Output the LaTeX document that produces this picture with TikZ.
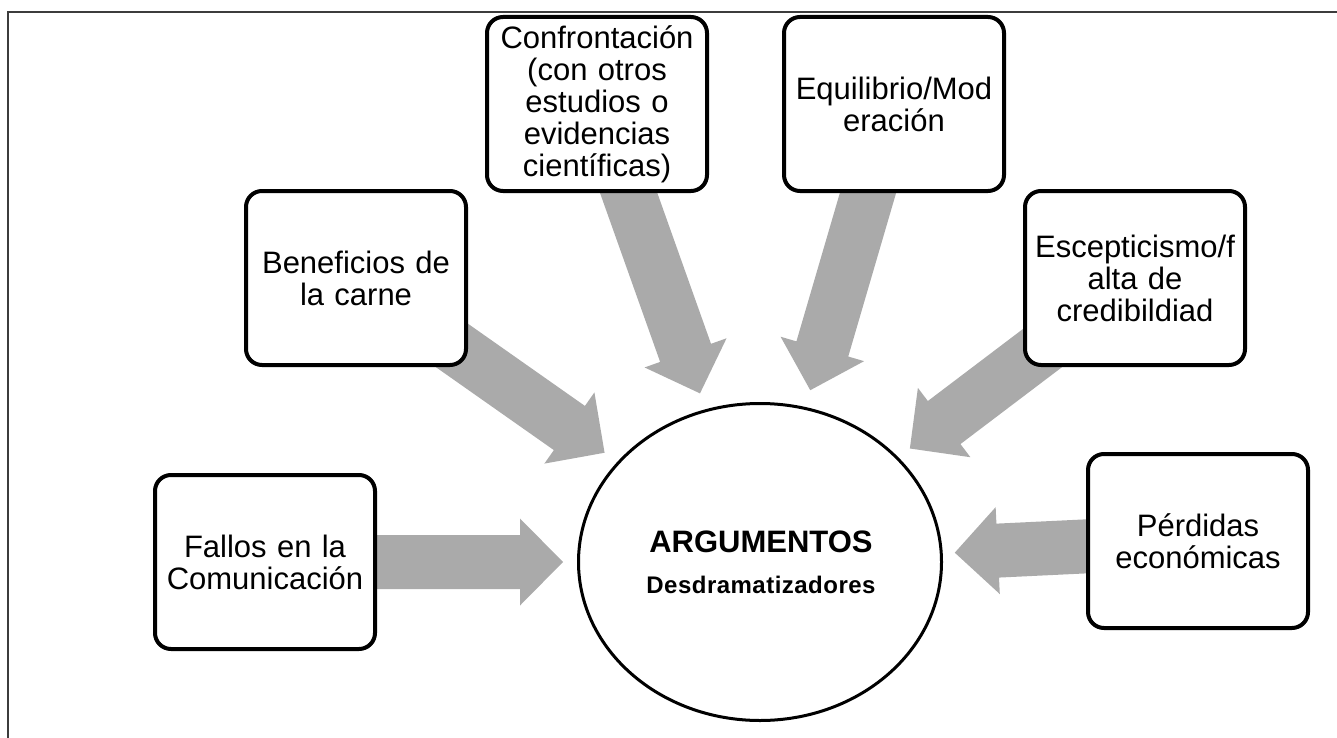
\documentclass[tikz,border=0pt]{standalone}
\usepackage{fontspec}
\setmainfont{Liberation Sans}
\newfontfamily\spacedbold[LetterSpace=2]{Liberation Sans}
\usetikzlibrary{shapes.geometric,calc}
\definecolor{arrowgray}{RGB}{170,170,170}
\definecolor{framegray}{RGB}{60,60,60}
\pgfdeclarelayer{bg}
\pgfsetlayers{bg,main}
\tikzset{
  box/.style={draw=black, line width=4pt, rounded corners=16pt, fill=white,
    minimum width=220pt, minimum height=174pt, text width=214pt, align=center,
    inner sep=0pt, font=\fontsize{31}{32}\selectfont},
  hub/.style={draw=black, line width=3pt, ellipse, fill=white,
    minimum width=363pt, minimum height=317pt, inner sep=0pt},
  arrowfill/.style={fill=arrowgray},
  frameline/.style={draw=framegray, line width=1.3pt},
  hubtitle/.style={font=\fontsize{31}{31}\selectfont\bfseries, anchor=base, inner sep=0pt},
  hubsub/.style={font=\fontsize{24}{24}\selectfont\spacedbold\bfseries, anchor=base, inner sep=0pt}
}
\newcommand\bigarrow[2]{%
  \coordinate (hb) at ($(#2)!43pt!(#1)$);
  \fill[arrowfill]
    ($(#1)!27pt!90:(#2)$) -- ($(hb)!27pt!90:(#2)$) -- ($(hb)!43.5pt!90:(#2)$) --
    (#2) --
    ($(hb)!43.5pt!-90:(#2)$) -- ($(hb)!27pt!-90:(#2)$) -- ($(#1)!27pt!-90:(#2)$) -- cycle;
}
\begin{document}
\begin{tikzpicture}[x=1pt,y=-1pt]
\useasboundingbox (0,0) rectangle (1337,738);
\draw[frameline] (8,738) -- (8,12) -- (1337,12);

\node[hub] (arg) at (760,562) {};
\node[hubtitle] (argt) at (761,552) {ARGUMENTOS};
\node[hubsub] (args) at (761,593) {Desdramatizadores};

\node[box] (fal) at (265,562) {Fallos en la\\Comunicación};
\node[box] (ben) at (356,278) {Beneficios de\\la carne};
\node[box] (conf) at (597,104) {Confrontación\\(con otros\\estudios o\\evidencias\\científicas)};
\node[box] (equi) at (894,104) {Equilibrio/Mod\\eración};
\node[box] (esc) at (1135,278) {Escepticismo/f\\alta de\\credibildiad};
\node[box] (per) at (1198,541) {Pérdidas\\económicas};

\coordinate (tfal) at ($(arg)!197pt!(fal)$);
\coordinate (tben) at ($(arg)!190pt!(ben)$);
\coordinate (tconf) at ($(arg)!179pt!(conf)$);
\coordinate (tequi) at ($(arg)!179pt!(equi)$);
\coordinate (tesc) at ($(arg)!188pt!(esc)$);
\coordinate (tper) at ($(arg)!195pt!(per)$);

\begin{pgfonlayer}{bg}
\bigarrow{fal}{tfal}
\bigarrow{ben}{tben}
\bigarrow{conf}{tconf}
\bigarrow{equi}{tequi}
\bigarrow{esc}{tesc}
\bigarrow{per}{tper}
\end{pgfonlayer}
\end{tikzpicture}
\end{document}
